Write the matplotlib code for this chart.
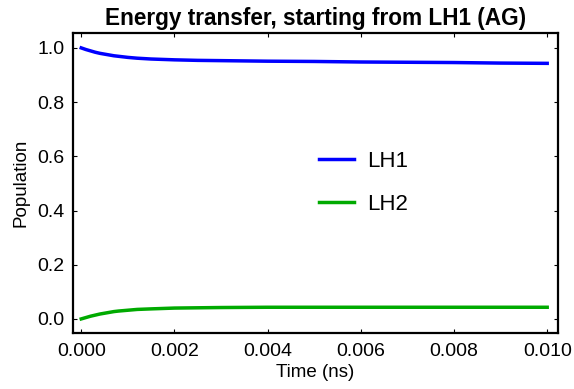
import matplotlib
matplotlib.use('Agg')
from matplotlib import pyplot as plt

plt.rcParams['font.family'] = ['Liberation Sans', 'DejaVu Sans']

time_ns = [0.0, 0.0001, 0.0002, 0.0003, 0.0004, 0.0005, 0.0006, 0.0007, 0.0008,
           0.001, 0.0012, 0.0015, 0.002, 0.0025, 0.003, 0.004, 0.005, 0.006,
           0.007, 0.008, 0.009, 0.010]
lh1 = [1.000, 0.994, 0.989, 0.984, 0.980, 0.977, 0.974, 0.971, 0.969,
       0.965, 0.962, 0.959, 0.956, 0.954, 0.953, 0.951, 0.950, 0.948,
       0.947, 0.946, 0.944, 0.943]
lh2 = [0.000, 0.005, 0.010, 0.014, 0.018, 0.021, 0.024, 0.027, 0.029,
       0.032, 0.035, 0.037, 0.040, 0.041, 0.042, 0.043, 0.043, 0.043,
       0.043, 0.043, 0.043, 0.043]
xticks = [0.0, 0.002, 0.004, 0.006, 0.008, 0.010]
yticks = [0.0, 0.2, 0.4, 0.6, 0.8, 1.0]

fig = plt.figure(figsize=(5.74, 3.89), dpi=100)
ax = fig.add_axes([73 / 574, 1 - 333 / 389, 485 / 574, 300 / 389])

ax.plot(time_ns, lh1, color='#0000ff', lw=2.5, label='LH1')
ax.plot(time_ns, lh2, color='#00aa00', lw=2.5, label='LH2')

ax.set_xlim(-0.000177, 0.010232)
ax.set_ylim(-0.052, 1.055)
ax.set_xticks(xticks)
ax.set_xticklabels(['%.3f' % v for v in xticks])
ax.set_yticks(yticks)
ax.set_yticklabels(['%.1f' % v for v in yticks])
ax.tick_params(direction='in', length=3, width=0.8, labelsize=14, top=True, right=True)
ax.tick_params(axis='x', pad=7)
ax.tick_params(axis='y', pad=6)
for s in ax.spines.values():
    s.set_linewidth(1.6)

ax.set_xlabel('Time (ns)', fontsize=13.5, labelpad=3)
ax.set_ylabel('Population', fontsize=13.5, labelpad=6)
ax.set_title('Energy transfer, starting from LH1 (AG)', fontsize=16.3, fontweight='bold', pad=6)

ax.legend(loc='center left', bbox_to_anchor=(0.465, 0.50), frameon=False, fontsize=16,
          handlelength=1.6, handletextpad=0.6, labelspacing=1.0)

plt.savefig('out.png', dpi=100)
